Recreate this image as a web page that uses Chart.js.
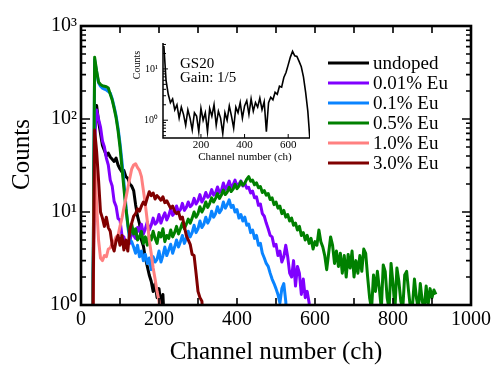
<!DOCTYPE html>
<html>
<head>
<meta charset="utf-8">
<script src="https://cdn.jsdelivr.net/npm/chart.js"></script>
<style>
html,body{margin:0;padding:0;background:#fff;}
#wrap{position:relative;width:498px;height:367px;overflow:hidden;}
#main{position:absolute;left:0;top:0;}
#inset{position:absolute;left:120px;top:30px;}
</style>
</head>
<body>
<div id="wrap">
<canvas id="main" width="498" height="367"></canvas>
<canvas id="inset" width="200" height="140"></canvas>
</div>
<script>
// ---------------- DATA ----------------
const seriesLabels = ['undoped', '0.01% Eu', '0.1% Eu', '0.5% Eu', '1.0% Eu', '3.0% Eu'];
const seriesColors = ['#000000', '#8000ff', '#0a84ff', '#008000', '#ff8080', '#800000'];

// all main spectra start at channel 30, one value every 5 channels
const channelStart = 30;
const channelStep = 5;

const undopedCounts = [0.5,110,140,95,70,52,46,40,43,39,
  37,35,38,32,29,27,28,24,23,20,
  19,17,12,9,7.5,5,4.3,3.2,2.6,2.1,
  1.8,1.4,1.7,1.2,1.5,1.0,1.3,0.5];

const eu001Counts = [0.5,60,125,100,82,58,50,38,32,22,
  19,13,11.5,8.5,8.2,5.6,5.4,4.2,4.5,4.6,
  6.4,5.6,5.2,6.8,6.2,7.4,5.8,6.6,7.8,6.4,
  7.2,8.6,7.4,7.8,9.4,7.6,8.8,9.8,8.2,9.2,
  10.8,9.2,9.8,11.6,10,10.6,12.4,10.4,11.2,12.8,
  11.4,12,14,12.2,13.2,15.4,12.8,14,16.2,14.4,
  15,17.4,15.2,16,18.6,16.2,17,20.5,17.4,19,
  21.5,18.4,19.6,22,19.2,20,21.6,19,20.5,18,
  18.4,16,16.8,14.2,14.6,11.8,12.2,9.6,9,7.6,
  6.6,5.6,5.4,4.3,4.5,3.4,3.8,2.9,3.3,4.4,
  3.3,2.2,2.0,3,1.6,2.6,2.2,1.3,1.9,1.2,
  1.4,1.05,0.5];

const eu01Counts = [0.5,430,320,245,225,215,210,205,198,190,
  165,135,108,80,55,35,21,12,7,5,
  4.8,4.2,3.6,4.4,3.3,3.8,3.0,3.5,2.8,3.2,
  2.4,3.3,2.9,3.1,3.8,2.9,3.4,4.2,3.4,3.9,
  4.5,3.6,4.2,5,4.2,4.8,5.6,4.6,5.2,6.2,
  5.4,6,7.2,6,6.6,8,6.8,7.4,8.8,7.6,
  8.4,10.2,8.8,9.6,11.4,9.8,10.6,12.8,11,12,
  13.5,11.2,11.8,10,10.6,8.6,9.4,8,8.8,7.2,
  7.4,6,6.4,5.2,5.6,4.4,4.6,3.6,3.2,2.8,
  2.6,2.2,1.9,1.7,1.5,1.3,1.05,1.5,1.7,1.1,
  0.5];

const eu05Counts = [0.5,460,330,250,235,228,225,222,215,185,
  160,130,103,75,50,30,18,11,7.5,5.6,
  7.4,5.8,6.6,5,5.4,6.2,4.6,5.4,4.4,5.6,
  5,6.2,5.2,4.6,6,5.4,6.6,4.8,5.6,5.2,
  6.4,5.4,6,7,5.8,6.6,7.6,6.6,7.4,8.4,
  7.6,8.6,10,8.8,9.6,11.4,10,11,12.8,11.2,
  12.4,14.2,12.8,14,15.8,14,15.2,17.2,15.4,16.4,
  18.4,16.6,17.6,19.8,17.8,19,21.2,19.4,20.4,22.6,
  24,21.4,22,19.6,20.6,18.2,18.8,16.2,17,15.2,
  15.8,13.6,14.2,12,12.8,11,11.6,9.6,10.4,8.8,
  9.4,8,8.6,7.2,7.6,6.4,7,5.6,6,5,
  5.6,4.6,5.2,4,4.8,4.4,6.4,4.8,4.2,3.4,
  2.4,3.6,5.4,4.4,2.8,3.8,2.6,3.6,2.2,3.4,
  2,3.5,2.5,3.8,2,3,2.2,3.4,2.3,4,
  3.6,2,1.2,0.9,2.1,1.4,2.3,1.5,0.9,2.7,
  2.3,1.2,0.9,2.8,1.7,0.9,2.5,1.8,1.1,0.9,
  2.1,2.3,1.4,0.9,1.0,1.9,1.2,0.9,1.7,1.1,
  0.9,1.6,1.0,1.5,1.2,1.45,1.3];

const eu10Counts = [0.3,40,12,5,3.2,3.0,3.4,3.3,4.0,4.1,
  4.6,4.8,5.4,5.6,7,8.6,11,14,18,23,
  29,32,33,30,28,24,17,12,8,5,
  3.6,2.5,1.9,1.4,1.1,0.5];

const eu30Counts = [0.3,76,45,22,10,8.6,7,8.8,6.8,6.2,
  4.4,3.8,4.9,5.6,4.4,5.6,3.9,5,3.8,6.4,
  7.6,9,9.6,10.8,10.2,11.6,12.8,12,14.2,16.5,
  15,16,13.8,15,14.2,13.4,14.6,12.6,13.2,12,
  11,11.6,10.2,9.6,10,8.4,8.8,7,5.6,5,
  4.5,3.5,3.4,2.2,1.4,1.2,1.1,0.5];

const seriesCounts = [undopedCounts, eu001Counts, eu01Counts, eu05Counts, eu10Counts, eu30Counts];

// inset (GS20, gain 1/5): one value every 10 channels from channel 30
const insetStart = 30;
const insetStep = 10;
const insetCounts = [28,6,3.2,2.2,2.6,1.6,2.0,1.1,1.8,1.3,
  0.8,1.6,1.1,0.65,1.4,1.2,0.6,1.7,1.0,1.4,
  0.6,1.7,1.2,2.0,0.8,1.5,1.1,0.55,1.4,1.0,
  1.9,1.2,0.7,1.8,1.4,2.2,1.1,1.9,2.4,1.3,
  2.6,1.5,2.2,1.8,2.7,1.6,2.3,0.6,2.2,2.8,
  2.5,3.5,3.2,4.6,4.4,6.8,8.5,12,17,22,
  18,17.5,14,11,7,3.5,1.5,0.4];

const yTickLabels = {1: '10\u2070', 10: '10\u00b9', 100: '10\u00b2', 1000: '10\u00b3'};
const xMinorTicks = [100,200,300,400,500,600,700,800,900];
const insetXTicks = [200,400,600];
const insetTexts = ['GS20', 'Gain: 1/5'];
const yAxisTitle = 'Counts';

// ---------------- RENDER ----------------
const SERIF = "'Liberation Serif','Times New Roman',serif";

function toPoints(counts, start, step) {
  return counts.map((v, i) => ({x: start + i * step, y: v}));
}

function powLabel(v) {
  const k = Math.round(v);
  return (Object.prototype.hasOwnProperty.call(yTickLabels, k) && Math.abs(v - k) < 1e-6) ? yTickLabels[k] : null;
}

const frameTicks = {
  id: 'frameTicks',
  afterDatasetsDraw(chart) {
    const {ctx, chartArea: a, scales: {x, y}} = chart;
    ctx.save();
    ctx.strokeStyle = '#000';
    ctx.lineWidth = 1.6;
    ctx.beginPath();
    xMinorTicks.forEach(v => {
      const px = x.getPixelForValue(v);
      ctx.moveTo(px, a.bottom); ctx.lineTo(px, a.bottom - 7);
      ctx.moveTo(px, a.top); ctx.lineTo(px, a.top + 7);
    });
    for (let e = 0; e < 3; e++) {
      for (let m = 1; m <= 9; m++) {
        const v = m * Math.pow(10, e);
        const py = y.getPixelForValue(v);
        const len = m === 1 ? 9 : 5;
        ctx.moveTo(a.left, py); ctx.lineTo(a.left + len, py);
        ctx.moveTo(a.right, py); ctx.lineTo(a.right - len, py);
      }
    }
    ctx.stroke();
    ctx.lineWidth = 2.6;
    ctx.strokeRect(a.left, a.top, a.right - a.left, a.bottom - a.top);
    ctx.restore();
  }
};

const legendLines = {
  id: 'legendLines',
  afterDraw(chart) {
    const {ctx, chartArea: a} = chart;
    const x0 = a.left + 247, y0 = a.top + 37, rowH = 20;
    ctx.save();
    ctx.font = "19px " + SERIF;
    ctx.textBaseline = 'middle';
    ctx.fillStyle = '#000';
    chart.data.datasets.forEach((ds, i) => {
      const yy = y0 + i * rowH;
      ctx.strokeStyle = ds.borderColor;
      ctx.lineWidth = 3;
      ctx.beginPath();
      ctx.moveTo(x0, yy); ctx.lineTo(x0 + 41, yy);
      ctx.stroke();
      ctx.fillText(ds.label, x0 + 45, yy + 1);
    });
    // y axis title, placed slightly above the plot's vertical centre as in the original
    ctx.translate(22, (a.top + a.bottom) / 2 - 11);
    ctx.rotate(-Math.PI / 2);
    ctx.font = "25px " + SERIF;
    ctx.textAlign = 'center';
    ctx.textBaseline = 'middle';
    ctx.fillText(yAxisTitle, 0, 0);
    ctx.restore();
  }
};

const mainChart = new Chart(document.getElementById('main'), {
  type: 'line',
  data: {
    datasets: seriesLabels.map((lab, i) => ({
      label: lab,
      data: toPoints(seriesCounts[i], channelStart, channelStep),
      borderColor: seriesColors[i],
      backgroundColor: seriesColors[i],
      borderWidth: 3,
      pointRadius: 0,
      tension: 0,
      borderJoinStyle: 'round',
      order: seriesLabels.length - i
    }))
  },
  options: {
    responsive: false,
    animation: false,
    devicePixelRatio: 1,
    layout: {padding: {top: 26, right: 27, left: 0, bottom: 0}},
    plugins: {legend: {display: false}, tooltip: {enabled: false}},
    scales: {
      x: {
        type: 'linear', min: 0, max: 1000,
        ticks: {stepSize: 200, maxRotation: 0, padding: 3, color: '#000', font: {family: SERIF, size: 20},
          callback: v => String(v)},
        grid: {display: false, drawTicks: false},
        border: {display: false},
        title: {display: true, text: 'Channel number (ch)', color: '#000', font: {family: SERIF, size: 25}, padding: {top: 0, bottom: 0}},
        afterFit(s) { s.height = 62; }
      },
      y: {
        type: 'logarithmic', min: 1, max: 1000,
        ticks: {callback: powLabel, autoSkip: false, padding: 4, color: '#000', font: {family: SERIF, size: 20}},
        grid: {display: false, drawTicks: false},
        border: {display: false},
        title: {display: false},
        afterFit(s) { s.width = 81; }
      }
    }
  },
  plugins: [frameTicks, legendLines]
});

const insetDecor = {
  id: 'insetDecor',
  afterDatasetsDraw(chart) {
    const {ctx, chartArea: a, scales: {x, y}} = chart;
    ctx.save();
    ctx.strokeStyle = '#000';
    ctx.lineWidth = 1;
    ctx.beginPath();
    insetXTicks.forEach(v => {
      const px = x.getPixelForValue(v);
      ctx.moveTo(px, a.bottom); ctx.lineTo(px, a.bottom - 4);
    });
    for (let e = -1; e < 2; e++) {
      for (let m = 1; m <= 9; m++) {
        const v = m * Math.pow(10, e);
        if (v < y.min || v > y.max) continue;
        const py = y.getPixelForValue(v);
        const len = m === 1 ? 5 : 3;
        ctx.moveTo(a.left, py); ctx.lineTo(a.left + len, py);
      }
    }
    ctx.stroke();
    ctx.lineWidth = 1.5;
    ctx.beginPath();
    ctx.moveTo(a.left, a.top); ctx.lineTo(a.left, a.bottom); ctx.lineTo(a.right, a.bottom);
    ctx.stroke();
    ctx.fillStyle = '#000';
    ctx.font = "15px " + SERIF;
    ctx.textBaseline = 'alphabetic';
    ctx.fillText(insetTexts[0], a.left + 17, a.top + 25);
    ctx.fillText(insetTexts[1], a.left + 17, a.top + 39);
    ctx.font = "11px " + SERIF;
    ctx.textAlign = 'center';
    ctx.textBaseline = 'middle';
    ctx.fillText('Channel number (ch)', a.left + 82, a.bottom + 19);
    ctx.translate(a.left - 26, a.top + 22);
    ctx.rotate(-Math.PI / 2);
    ctx.font = "10px " + SERIF;
    ctx.fillText('Counts', 0, 0);
    ctx.restore();
  }
};

const insetChart = new Chart(document.getElementById('inset'), {
  type: 'line',
  data: {
    datasets: [{
      label: 'GS20',
      data: toPoints(insetCounts, insetStart, insetStep),
      borderColor: '#000',
      borderWidth: 1.6,
      pointRadius: 0,
      tension: 0
    }]
  },
  options: {
    responsive: false,
    animation: false,
    devicePixelRatio: 1,
    layout: {padding: {top: 13, right: 10, left: 0, bottom: 0}},
    plugins: {legend: {display: false}, tooltip: {enabled: false}},
    scales: {
      x: {
        type: 'linear', min: 26, max: 700,
        ticks: {stepSize: 100, includeBounds: false, maxRotation: 0, padding: 1, color: '#000', font: {family: SERIF, size: 11},
          callback: v => insetXTicks.includes(v) ? String(v) : null},
        grid: {display: false, drawTicks: false},
        border: {display: false},
        afterFit(s) { s.height = 32; }
      },
      y: {
        type: 'logarithmic', min: 0.45, max: 32,
        ticks: {callback: v => (Math.abs(v - 1) < 1e-6 || Math.abs(v - 10) < 1e-6) ? powLabel(v) : null, autoSkip: false, padding: 5, color: '#000', font: {family: SERIF, size: 10}},
        grid: {display: false, drawTicks: false},
        border: {display: false},
        afterFit(s) { s.width = 43; }
      }
    }
  },
  plugins: [insetDecor]
});
</script>
</body>
</html>
